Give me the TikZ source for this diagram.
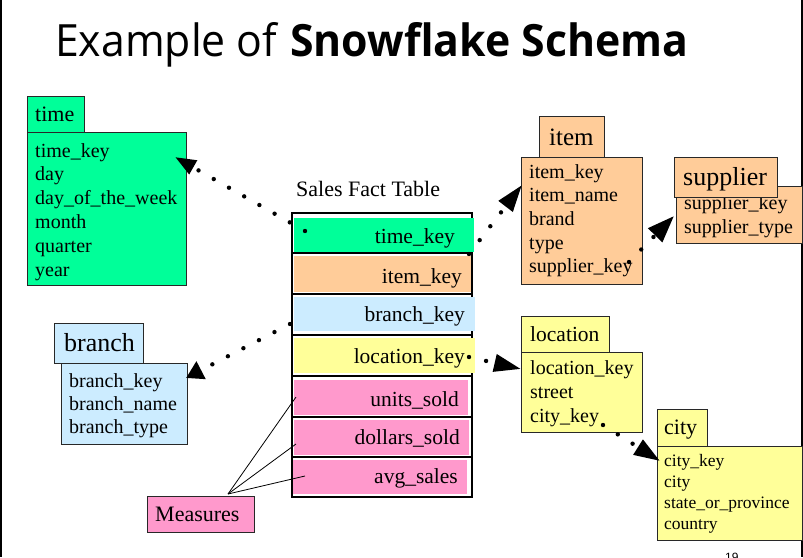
\documentclass[tikz,border=0pt]{standalone}
\usepackage{fontspec}
\usepackage{graphicx}
\setmainfont{Liberation Serif}
\newfontfamily\titlefont{Open Sans}
\newfontfamily\pagefont{Liberation Sans}
\usetikzlibrary{arrows.meta,fit}
\definecolor{cgreen}{RGB}{0,255,153}
\definecolor{corange}{RGB}{255,204,153}
\definecolor{cblue}{RGB}{204,236,255}
\definecolor{cyellow}{RGB}{255,255,153}
\definecolor{cpink}{RGB}{255,153,204}
\definecolor{edgecol}{RGB}{40,40,40}
\begin{document}
\begin{tikzpicture}[x=1pt,y=-1pt,
  box/.style={draw=edgecol, line width=1pt, inner sep=0pt, outer sep=0pt},
  lbl/.style={anchor=base west, inner sep=0pt},
  fld/.style={lbl, font=\fontsize{20}{24}\selectfont},
  sfld/.style={lbl, font=\fontsize{17.5}{21}\selectfont},
  rowbox/.style={draw=black, line width=1.6pt, fill=white, inner sep=0pt, outer sep=0pt},
  rowfill/.style={draw=none, inner sep=0pt, outer sep=0pt},
  rowtxt/.style={anchor=base east, inner sep=0pt, font=\fontsize{21.5}{26}\selectfont},
  fkline/.style={line width=4.4pt, line cap=round, dash pattern=on 0pt off 17.5pt},
  measline/.style={line width=0.8pt, draw=black},
]
\useasboundingbox (0,0) rectangle (803,557);

% page borders
\draw[line width=1.5pt] (0.75,0) -- (0.75,557);
\draw[line width=2pt] (802,0) -- (802,557);

% title
\node[lbl] (title) at (55,56) {\resizebox{633pt}{34pt}{\titlefont Example of \textbf{Snowflake Schema}}};

% ---------- time ----------
\node[box, fill=cgreen, fit={(27,132)(186,285)}] (timeB) {};
\node[box, fill=cgreen, fit={(27,96)(84,132)}] (timeH) {};
\node[lbl, font=\fontsize{22}{26}\selectfont] (timeT) at (35,121) {time};
\foreach \t [count=\i] in {time\_key,day,day\_of\_the\_week,month,quarter,year}
  \node[fld] (time-\i) at (35,{157+23.8*(\i-1)}) {\t};

% ---------- item ----------
\node[box, fill=corange, fit={(521,157)(642,284)}] (itemB) {};
\node[box, fill=corange, fit={(539,116)(604,157)}] (itemH) {};
\node[lbl, font=\fontsize{25}{30}\selectfont] (itemT) at (549,145) {item};
\foreach \t [count=\i] in {item\_key,item\_name,brand,type,supplier\_key}
  \node[fld] (item-\i) at (529,{178+23.7*(\i-1)}) {\t};

% ---------- supplier ----------
\node[box, fill=corange, fit={(676,186)(802,243)}] (supB) {};
\foreach \t [count=\i] in {supplier\_key,supplier\_type}
  \node[fld] (sup-\i) at (684,{209+24*(\i-1)}) {\t};
\node[box, fill=corange, fit={(674,157)(777,197)}] (supH) {};
\node[lbl, font=\fontsize{26}{30}\selectfont] (supT) at (683,185) {supplier};

% ---------- branch ----------
\node[box, fill=cblue, fit={(61,363)(187,444)}] (brB) {};
\node[box, fill=cblue, fit={(54,323)(143,363)}] (brH) {};
\node[lbl, font=\fontsize{26}{30}\selectfont] (brT) at (64,351) {branch};
\foreach \t [count=\i] in {branch\_key,branch\_name,branch\_type}
  \node[fld] (br-\i) at (69,{387+23.3*(\i-1)}) {\t};

% ---------- location ----------
\node[box, fill=cyellow, fit={(521,352)(642,432)}] (locB) {};
\node[box, fill=cyellow, fit={(521,316)(609,352)}] (locH) {};
\node[lbl, font=\fontsize{21.5}{26}\selectfont] (locT) at (530,341) {location};
\foreach \t [count=\i] in {location\_key,street,city\_key}
  \node[fld] (loc-\i) at (530,{374+24*(\i-1)}) {\t};

% ---------- city ----------
\node[box, fill=cyellow, fit={(657,446)(802,540)}] (cityB) {};
\node[box, fill=cyellow, fit={(657,409)(707,446)}] (cityH) {};
\node[lbl, font=\fontsize{22}{26}\selectfont] (cityT) at (664,434) {city};
\foreach \t [count=\i] in {city\_key,city,state\_or\_province,country}
  \node[sfld] (city-\i) at (664,{466+21.3*(\i-1)}) {\t};

% ---------- fact table ----------
\node[lbl, font=\fontsize{22}{26}\selectfont] (factT) at (296,196) {Sales Fact Table};
\node[rowbox, fit={(292,213)(472,253)}] (rTime) {};
\node[rowbox, fit={(292,253)(472,294)}] (rItem) {};
\node[rowbox, fit={(292,294)(472,335)}] (rBranch) {};
\node[rowbox, fit={(292,335)(472,376)}] (rLoc) {};
\node[rowbox, fit={(292,376)(472,417)}] (rUnits) {};
\node[rowbox, fit={(292,417)(472,457)}] (rDollars) {};
\node[rowbox, fit={(292,457)(472,497)}] (rAvg) {};
\node[rowfill, fill=cgreen, fit={(294,218)(474,252)}] (fTime) {};
\node[rowfill, fill=corange, fit={(294,256)(471,292)}] (fItem) {};
\node[rowfill, fill=cblue, fit={(294,297)(475,331)}] (fBranch) {};
\node[rowfill, fill=cyellow, fit={(294,338)(475,373)}] (fLoc) {};
\node[rowfill, fill=cpink, fit={(294,380)(468,415)}] (fUnits) {};
\node[rowfill, fill=cpink, fit={(294,420)(469,455)}] (fDollars) {};
\node[rowfill, fill=cpink, fit={(293,460)(467,494)}] (fAvg) {};
\node[rowtxt] (tTime) at (455,243) {time\_key};
\node[rowtxt] (tItem) at (462,283) {item\_key};
\node[rowtxt] (tBranch) at (465,321) {branch\_key};
\node[rowtxt] (tLoc) at (465,363) {location\_key};
\node[rowtxt] (tUnits) at (459,406) {units\_sold};
\node[rowtxt] (tDollars) at (460,444) {dollars\_sold};
\node[rowtxt] (tAvg) at (458,483) {avg\_sales};

% ---------- measures ----------
\node[box, fill=cpink, fit={(147,496)(254,532)}] (meas) {};
\node[lbl, font=\fontsize{22}{26}\selectfont] (measT) at (155,521) {Measures};
\coordinate (mS) at (228,494);
\coordinate (mU) at (296,397);
\coordinate (mD) at (296,444);
\coordinate (mA) at (305,476);
\draw[measline] (mS) -- (mU);
\draw[measline] (mS) -- (mD);
\draw[measline] (mS) -- (mA);

% ---------- foreign key connectors ----------
\coordinate (tS) at (305,231);  \coordinate (tE) at (175,157);
\coordinate (iS) at (469,254);  \coordinate (iE) at (522,185);
\coordinate (sS) at (629,262);  \coordinate (sE) at (674,216);
\coordinate (bS) at (290,324);  \coordinate (bE) at (186,378);
\coordinate (lS) at (469,357);  \coordinate (lE) at (521,369);
\coordinate (cS) at (603,425);  \coordinate (cE) at (660,461);
\draw[fkline, -{Triangle[length=21pt,width=15pt]}] (tS) -- (tE);
\draw[fkline, -{Triangle[length=27pt,width=17pt]}] (iS) -- (iE);
\draw[fkline, -{Triangle[length=27pt,width=19pt]}] (sS) -- (sE);
\draw[fkline, -{Triangle[length=17pt,width=19pt]}] (bS) -- (bE);
\draw[fkline, -{Triangle[length=27pt,width=17pt]}] (lS) -- (lE);
\draw[fkline, -{Triangle[length=26pt,width=17pt]}] (cS) -- (cE);

% page number
\node[lbl, font=\pagefont\fontsize{12}{14}\selectfont] (pg) at (725,561) {19};
\end{tikzpicture}
\end{document}
